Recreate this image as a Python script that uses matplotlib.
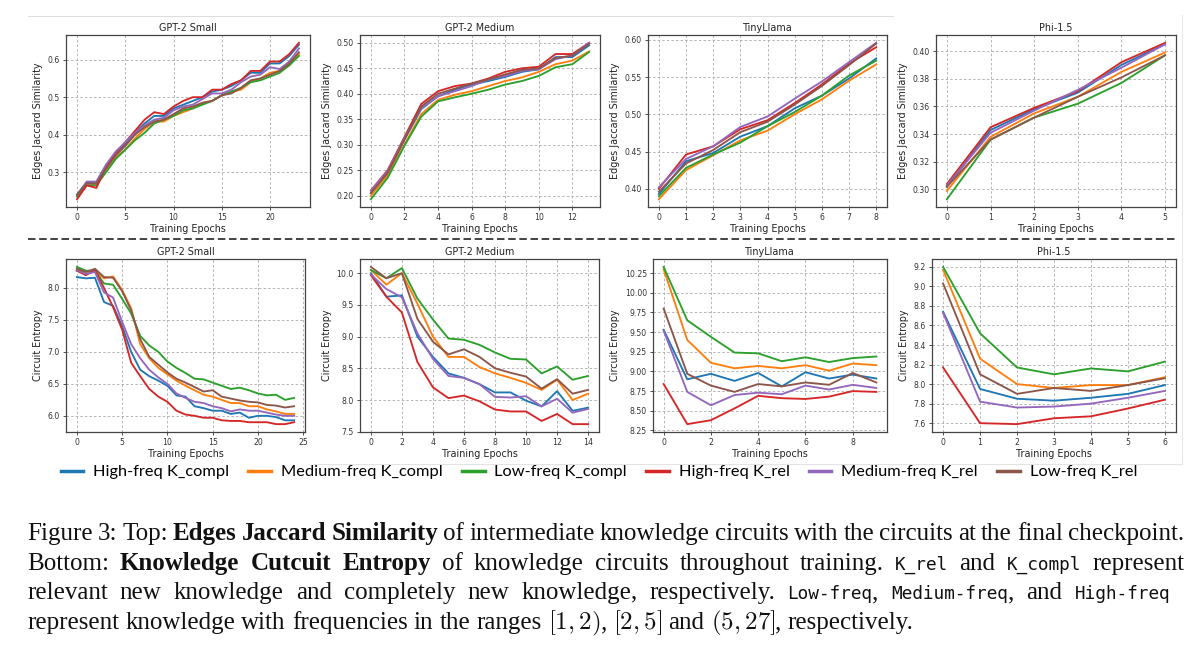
import numpy as np
import matplotlib
matplotlib.use('Agg')
import matplotlib.pyplot as plt
from matplotlib.lines import Line2D
from matplotlib.ticker import FormatStrFormatter

plt.rcParams['mathtext.fontset'] = 'cm'
plt.rcParams['font.family'] = ['DejaVu Sans']

W, H = 1200, 654

labels = ['High-freq K_compl', 'Medium-freq K_compl', 'Low-freq K_compl',
          'High-freq K_rel', 'Medium-freq K_rel', 'Low-freq K_rel']
colors = ['#1f77b4', '#ff7f0e', '#2ca02c', '#d62728', '#9467bd', '#8c564b']

# ---- top row: edges jaccard similarity (order = labels) ----
jac_gpt2_small = [
    [0.24, 0.272, 0.27, 0.315, 0.35, 0.375, 0.405, 0.43, 0.45, 0.45, 0.47, 0.48, 0.49, 0.50, 0.515, 0.52, 0.53, 0.545, 0.565, 0.565, 0.59, 0.59, 0.61, 0.64],
    [0.235, 0.265, 0.265, 0.305, 0.34, 0.36, 0.39, 0.415, 0.435, 0.435, 0.45, 0.46, 0.47, 0.485, 0.49, 0.505, 0.515, 0.52, 0.54, 0.55, 0.565, 0.57, 0.585, 0.615],
    [0.235, 0.265, 0.265, 0.30, 0.335, 0.36, 0.385, 0.405, 0.43, 0.44, 0.45, 0.465, 0.47, 0.48, 0.49, 0.505, 0.515, 0.525, 0.54, 0.545, 0.555, 0.565, 0.585, 0.61],
    [0.228, 0.265, 0.258, 0.315, 0.35, 0.38, 0.41, 0.44, 0.46, 0.455, 0.475, 0.49, 0.50, 0.50, 0.52, 0.52, 0.535, 0.545, 0.57, 0.57, 0.595, 0.595, 0.615, 0.645],
    [0.24, 0.275, 0.275, 0.32, 0.355, 0.38, 0.405, 0.425, 0.44, 0.445, 0.465, 0.475, 0.48, 0.495, 0.51, 0.51, 0.52, 0.54, 0.555, 0.56, 0.58, 0.575, 0.595, 0.63],
    [0.24, 0.27, 0.27, 0.31, 0.345, 0.37, 0.40, 0.42, 0.435, 0.44, 0.455, 0.47, 0.475, 0.485, 0.49, 0.505, 0.51, 0.525, 0.545, 0.55, 0.56, 0.57, 0.59, 0.62],
]
jac_gpt2_medium = [
    [0.205, 0.245, 0.31, 0.37, 0.395, 0.408, 0.418, 0.425, 0.433, 0.443, 0.448, 0.472, 0.472, 0.495],
    [0.20, 0.24, 0.30, 0.36, 0.388, 0.398, 0.405, 0.415, 0.425, 0.432, 0.443, 0.458, 0.465, 0.483],
    [0.193, 0.235, 0.298, 0.355, 0.385, 0.393, 0.40, 0.408, 0.418, 0.425, 0.435, 0.452, 0.458, 0.482],
    [0.21, 0.25, 0.315, 0.38, 0.405, 0.415, 0.42, 0.43, 0.443, 0.45, 0.453, 0.478, 0.478, 0.50],
    [0.21, 0.248, 0.312, 0.372, 0.395, 0.405, 0.415, 0.428, 0.435, 0.445, 0.448, 0.468, 0.475, 0.50],
    [0.205, 0.245, 0.31, 0.375, 0.40, 0.41, 0.42, 0.428, 0.438, 0.447, 0.45, 0.47, 0.475, 0.498],
]
jac_tinyllama = [
    [0.393, 0.437, 0.448, 0.47, 0.484, 0.508, 0.525, 0.548, 0.575],
    [0.386, 0.425, 0.445, 0.465, 0.478, 0.50, 0.52, 0.545, 0.567],
    [0.39, 0.428, 0.446, 0.462, 0.484, 0.503, 0.525, 0.552, 0.572],
    [0.40, 0.446, 0.457, 0.48, 0.492, 0.515, 0.54, 0.568, 0.59],
    [0.402, 0.44, 0.457, 0.483, 0.497, 0.521, 0.544, 0.57, 0.596],
    [0.396, 0.434, 0.452, 0.476, 0.49, 0.513, 0.538, 0.566, 0.595],
]
jac_phi = [
    [0.302, 0.343, 0.358, 0.37, 0.39, 0.405],
    [0.299, 0.338, 0.355, 0.367, 0.385, 0.399],
    [0.293, 0.336, 0.352, 0.362, 0.377, 0.397],
    [0.304, 0.345, 0.359, 0.371, 0.392, 0.406],
    [0.303, 0.341, 0.357, 0.372, 0.388, 0.405],
    [0.302, 0.336, 0.352, 0.367, 0.381, 0.397],
]

# ---- bottom row: circuit entropy ----
ent_gpt2_small = [
    [8.17, 8.15, 8.16, 7.78, 7.72, 7.40, 7.00, 6.72, 6.62, 6.55, 6.47, 6.32, 6.30, 6.15, 6.12, 6.08, 6.08, 6.03, 6.05, 5.97, 6.00, 6.00, 5.98, 5.93, 5.93],
    [8.27, 8.22, 8.27, 8.15, 8.18, 7.97, 7.68, 7.12, 6.90, 6.75, 6.65, 6.55, 6.47, 6.40, 6.33, 6.30, 6.25, 6.20, 6.20, 6.15, 6.15, 6.10, 6.07, 6.03, 6.03],
    [8.33, 8.27, 8.27, 8.07, 8.05, 7.83, 7.60, 7.25, 7.10, 7.00, 6.85, 6.75, 6.67, 6.58, 6.57, 6.52, 6.47, 6.42, 6.44, 6.40, 6.35, 6.32, 6.33, 6.25, 6.28],
    [8.27, 8.20, 8.28, 8.00, 7.70, 7.35, 6.83, 6.62, 6.42, 6.30, 6.22, 6.08, 6.02, 6.00, 5.97, 5.97, 5.93, 5.92, 5.92, 5.90, 5.90, 5.90, 5.87, 5.87, 5.90],
    [8.28, 8.22, 8.25, 7.93, 7.85, 7.47, 7.12, 6.90, 6.72, 6.60, 6.50, 6.35, 6.28, 6.22, 6.20, 6.15, 6.12, 6.07, 6.10, 6.08, 6.08, 6.05, 6.02, 6.00, 6.00],
    [8.30, 8.25, 8.30, 8.17, 8.16, 7.95, 7.65, 7.20, 6.92, 6.80, 6.68, 6.58, 6.52, 6.45, 6.38, 6.40, 6.30, 6.27, 6.24, 6.22, 6.21, 6.17, 6.16, 6.13, 6.15],
]
ent_gpt2_medium = [
    [10.00, 9.63, 9.65, 9.00, 8.68, 8.42, 8.35, 8.25, 8.12, 8.12, 7.99, 7.90, 8.14, 7.83, 7.88],
    [10.05, 9.82, 10.00, 9.52, 9.00, 8.68, 8.68, 8.52, 8.42, 8.35, 8.27, 8.16, 8.32, 8.00, 8.10],
    [10.05, 9.92, 10.08, 9.60, 9.27, 8.97, 8.95, 8.87, 8.75, 8.65, 8.64, 8.42, 8.53, 8.32, 8.38],
    [9.97, 9.63, 9.38, 8.60, 8.20, 8.03, 8.07, 7.98, 7.85, 7.82, 7.82, 7.67, 7.78, 7.62, 7.62],
    [9.98, 9.75, 9.62, 9.05, 8.65, 8.38, 8.35, 8.25, 8.05, 8.04, 8.06, 7.90, 8.02, 7.80, 7.86],
    [10.10, 9.92, 10.00, 9.28, 8.92, 8.72, 8.80, 8.68, 8.50, 8.43, 8.37, 8.18, 8.33, 8.10, 8.16],
]
ent_tinyllama = [
    [9.53, 8.90, 8.97, 8.88, 8.98, 8.81, 8.99, 8.91, 8.96, 8.91],
    [10.30, 9.40, 9.11, 9.04, 9.07, 9.04, 9.08, 9.01, 9.10, 9.08],
    [10.33, 9.65, 9.44, 9.24, 9.23, 9.13, 9.18, 9.12, 9.17, 9.19],
    [8.84, 8.33, 8.38, 8.53, 8.69, 8.66, 8.65, 8.68, 8.75, 8.74],
    [9.52, 8.74, 8.57, 8.70, 8.73, 8.71, 8.82, 8.77, 8.83, 8.79],
    [9.80, 8.97, 8.82, 8.74, 8.84, 8.81, 8.86, 8.83, 8.98, 8.86],
]
ent_phi = [
    [8.74, 7.95, 7.85, 7.83, 7.86, 7.90, 7.99],
    [9.17, 8.26, 8.00, 7.96, 7.99, 7.99, 8.07],
    [9.20, 8.52, 8.17, 8.10, 8.16, 8.13, 8.23],
    [8.17, 7.60, 7.59, 7.65, 7.67, 7.75, 7.84],
    [8.73, 7.82, 7.76, 7.77, 7.80, 7.86, 7.93],
    [9.03, 8.10, 7.90, 7.96, 7.93, 7.99, 8.06],
]

titles = ['GPT-2 Small', 'GPT-2 Medium', 'TinyLlama', 'Phi-1.5']

# panel: data, ylabel, pixel box (left, top, right, bottom), xticks, yticks, y format
panels = [
    (jac_gpt2_small, 'Edges Jaccard Similarity', (66, 35, 310, 207), np.arange(0, 21, 5), np.arange(0.3, 0.61, 0.1), '%.1f'),
    (jac_gpt2_medium, 'Edges Jaccard Similarity', (360, 35, 600, 207), np.arange(0, 13, 2), np.arange(0.20, 0.501, 0.05), '%.2f'),
    (jac_tinyllama, 'Edges Jaccard Similarity', (648, 35, 887, 207), np.arange(0, 9, 1), np.arange(0.40, 0.601, 0.05), '%.2f'),
    (jac_phi, 'Edges Jaccard Similarity', (936, 35, 1176, 207), np.arange(0, 6, 1), np.arange(0.30, 0.401, 0.02), '%.2f'),
    (ent_gpt2_small, 'Circuit Entropy', (66, 259, 305, 432), np.arange(0, 26, 5), np.arange(6.0, 8.01, 0.5), '%.1f'),
    (ent_gpt2_medium, 'Circuit Entropy', (360, 259, 599, 432), np.arange(0, 15, 2), np.arange(7.5, 10.01, 0.5), '%.1f'),
    (ent_tinyllama, 'Circuit Entropy', (653, 259, 887, 432), np.arange(0, 9, 2), np.arange(8.25, 10.26, 0.25), '%.2f'),
    (ent_phi, 'Circuit Entropy', (932, 259, 1176, 432), np.arange(0, 7, 1), np.arange(7.6, 9.21, 0.2), '%.1f'),
]

fig = plt.figure(figsize=(W / 100, H / 100), dpi=100)

for i, (data, ylab, box, xt, yt, yfmt) in enumerate(panels):
    l, t, r, b = box
    ax = fig.add_axes([l / W, 1 - b / H, (r - l) / W, (b - t) / H])
    for k, series in enumerate(data):
        ax.plot(np.arange(len(series)), series, color=colors[k], lw=1.35)
    ax.set_title(titles[i % 4], fontsize=6.9, pad=3, color='#222')
    ax.set_xlabel('Training Epochs', fontsize=6.9, labelpad=1.5, color='#222')
    ax.set_ylabel(ylab, fontsize=6.9, labelpad=3, color='#222')
    ax.set_xticks(xt)
    ax.set_yticks(yt)
    ax.yaxis.set_major_formatter(FormatStrFormatter(yfmt))
    ax.tick_params(labelsize=5.6, length=2.5, width=0.6, pad=2, colors='#333')
    ax.grid(True, linestyle=(0, (3, 2.5)), color='#aaaaaa', lw=0.6)
    for sp in ax.spines.values():
        sp.set_color('#444444')
        sp.set_linewidth(0.9)

# dashed separator between the two rows
fig.add_artist(Line2D([28 / W, 1176 / W], [1 - 239 / H] * 2, color='#222', lw=1.2,
                      linestyle=(0, (4.5, 2.2))))
# faint screenshot frame lines
fig.add_artist(Line2D([28 / W, 893 / W], [1 - 16 / H] * 2, color='#dddddd', lw=0.8))
fig.add_artist(Line2D([313 / W, 1182 / W], [1 - 464 / H] * 2, color='#e3e3e3', lw=0.8))
fig.add_artist(Line2D([1182 / W, 1182 / W], [1 - 15 / H, 1 - 464 / H], color='#e8e8e8', lw=0.8))

handles = [Line2D([], [], color=c, lw=2.5) for c in colors]
fig.legend(handles, labels, loc='center', bbox_to_anchor=(0.499, 1 - 472 / H), ncol=6,
           frameon=False, prop={'family': 'Lato', 'size': 11.8}, handlelength=1.4,
           handletextpad=0.6, columnspacing=1.15)

# ---- caption, justified, mixed fonts ----
caption = [
    ([('Figure 3: Top: ', 'r'), ('Edges Jaccard Similarity', 'b'),
      (' of intermediate knowledge circuits with the circuits at the final checkpoint.', 'r')], 540, 1184),
    ([('Bottom: ', 'r'), ('Knowledge Cutcuit Entropy', 'b'),
      (' of knowledge circuits throughout training. ', 'r'), ('K_rel', 'm'), (' and ', 'r'),
      ('K_compl', 'm'), (' represent', 'r')], 570, 1184),
    ([('relevant new knowledge and completely new knowledge, respectively. ', 'r'),
      ('Low-freq', 'm'), (', ', 'r'), ('Medium-freq', 'm'), (', and ', 'r'), ('High-freq', 'm')], 599, 1170),
    ([('represent knowledge with frequencies in the ranges ', 'r'), (r'$[1,2)$', 'r'), (', ', 'r'),
      (r'$[2,5]$', 'r'), (' and ', 'r'), (r'$(5,27]$', 'r'), (', respectively.', 'r')], 629, None),
]
styles = {
    'r': dict(family='Liberation Serif', size=18),
    'b': dict(family='Liberation Serif', size=18, weight='bold'),
    'm': dict(family='DejaVu Sans Mono', size=12.8),
}
renderer = fig.canvas.get_renderer()
x_left = 27
space = 6.2
for segs, base, x_right in caption:
    words = [[]]
    for txt, sty in segs:
        parts = txt.split(' ')
        for j, p in enumerate(parts):
            if j > 0:
                words.append([])
            if p:
                words[-1].append((p, sty))
    words = [w for w in words if w]
    placed = []
    for w in words:
        pieces = []
        for p, sty in w:
            tx = fig.text(0, 1 - base / H, p, va='baseline', ha='left', color='#111', **styles[sty])
            pieces.append((tx, tx.get_window_extent(renderer=renderer).width))
        placed.append(pieces)
    widths = [sum(pw for _, pw in pieces) for pieces in placed]
    if x_right is not None and len(words) > 1:
        gap = (x_right - x_left - sum(widths)) / (len(words) - 1)
    else:
        gap = space
    x = x_left
    for pieces, wsum in zip(placed, widths):
        xx = x
        for tx, pw in pieces:
            tx.set_x(xx / W)
            xx += pw
        x += wsum + gap

fig.savefig('out.png', dpi=100)
